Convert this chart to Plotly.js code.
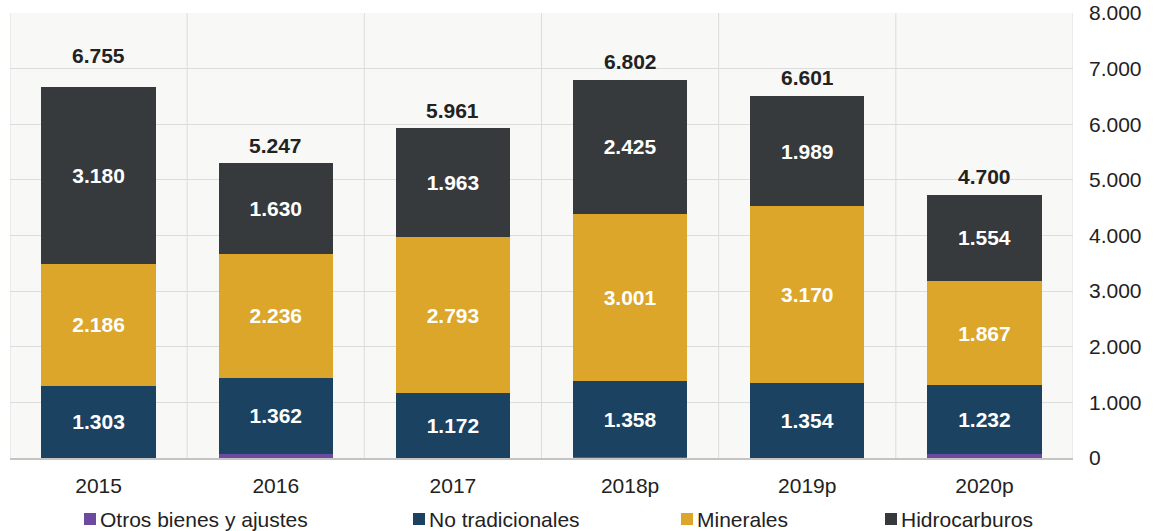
<!DOCTYPE html>
<html>
<head>
<meta charset="utf-8">
<script src="https://cdn.plot.ly/plotly-3.0.1.min.js"></script>
<style>html,body{margin:0;padding:0;background:#fff;}#chart{width:1158px;height:531px;}</style>
</head>
<body>
<div id="chart"></div>
<script>
const years = ["2015", "2016", "2017", "2018p", "2019p", "2020p"];
const otros = [0, 75, 0, 20, 0, 80];
const noTradicionales = [1303, 1362, 1172, 1358, 1354, 1232];
const minerales = [2186, 2236, 2793, 3001, 3170, 1867];
const hidrocarburos = [3180, 1630, 1963, 2425, 1989, 1554];
const totales = [6755, 5247, 5961, 6802, 6601, 4700];
const seriesNames = ["Otros bienes y ajustes", "No tradicionales", "Minerales", "Hidrocarburos"];
const seriesColors = ["#6b4aa0", "#1c4262", "#dba62a", "#373a3d"];
const yTicks = [0, 1000, 2000, 3000, 4000, 5000, 6000, 7000, 8000];

const fmt = v => String(Math.round(v)).replace(/\B(?=(\d{3})+(?!\d))/g, ".");
const FONT = "Liberation Sans, Arial, sans-serif";
const FS = 21;
const seriesData = [otros, noTradicionales, minerales, hidrocarburos];

const traces = seriesData.map((vals, i) => ({
  type: "bar",
  name: seriesNames[i],
  x: years,
  y: vals,
  marker: {color: seriesColors[i], line: {width: 0}},
  text: i === 0 ? undefined : vals.map(fmt),
  textposition: i === 0 ? "none" : "inside",
  insidetextanchor: "middle",
  textangle: 0,
  constraintext: "none",
  textfont: {family: FONT, size: FS, color: "#ffffff", weight: "bold"},
  hoverinfo: "x+y+name",
  showlegend: false
}));

const annotations = years.map((yr, i) => ({
  x: i, xref: "x",
  y: otros[i] + noTradicionales[i] + minerales[i] + hidrocarburos[i], yref: "y",
  text: "<b>" + fmt(totales[i]) + "</b>",
  showarrow: false, yanchor: "middle", yshift: i === 0 ? 32 : 18,
  font: {family: FONT, size: FS, color: "#222222"}
}));

// vertical separators between categories
const shapes = [];
for (let i = 0; i <= years.length; i++) {
  shapes.push({type: "line", xref: "x", yref: "paper", x0: i - 0.5, x1: i - 0.5, y0: 0, y1: 1,
    line: {color: "#dcdcdc", width: 1}, layer: "below"});
}

// custom legend
const legendX = [83, 412, 680, 884];
const L = 10, W = 1063, T = 13, H = 445;
const px2x = p => (p - L) / W;
const py2y = p => (T + H - p) / H;
seriesNames.forEach((n, i) => {
  shapes.push({type: "rect", xref: "paper", yref: "paper",
    x0: px2x(legendX[i] + 1), x1: px2x(legendX[i] + 13),
    y0: py2y(525), y1: py2y(513),
    fillcolor: seriesColors[i], line: {width: 0}});
  annotations.push({xref: "paper", yref: "paper", x: px2x(legendX[i] + 15), y: py2y(519),
    xanchor: "left", yanchor: "middle", showarrow: false, text: n,
    font: {family: FONT, size: FS, color: "#222222"}});
});

const layout = {
  width: 1158, height: 531,
  margin: {l: L, r: 1158 - L - W, t: T, b: 531 - T - H},
  paper_bgcolor: "#ffffff",
  plot_bgcolor: "#f8f8f6",
  barmode: "stack",
  bargap: 0.355,
  separators: ",.",
  showlegend: false,
  font: {family: FONT, size: FS, color: "#222222"},
  xaxis: {
    type: "category",
    showgrid: false,
    showline: true, linecolor: "#c4c4c4", linewidth: 2,
    ticks: "", ticklabelstandoff: 8,
    tickfont: {family: FONT, size: FS, color: "#222222"},
    range: [-0.5, years.length - 0.5],
    fixedrange: true
  },
  yaxis: {
    side: "right",
    range: [0, 8000],
    tickvals: yTicks,
    ticktext: yTicks.map(fmt),
    showgrid: true, gridcolor: "#dcdcdc", gridwidth: 1,
    zeroline: false, showline: false,
    ticks: "", ticklabelstandoff: 15,
    tickfont: {family: FONT, size: FS, color: "#222222"},
    fixedrange: true
  },
  shapes: shapes,
  annotations: annotations
};

Plotly.newPlot("chart", traces, layout, {displayModeBar: false, staticPlot: true});
</script>
</body>
</html>
